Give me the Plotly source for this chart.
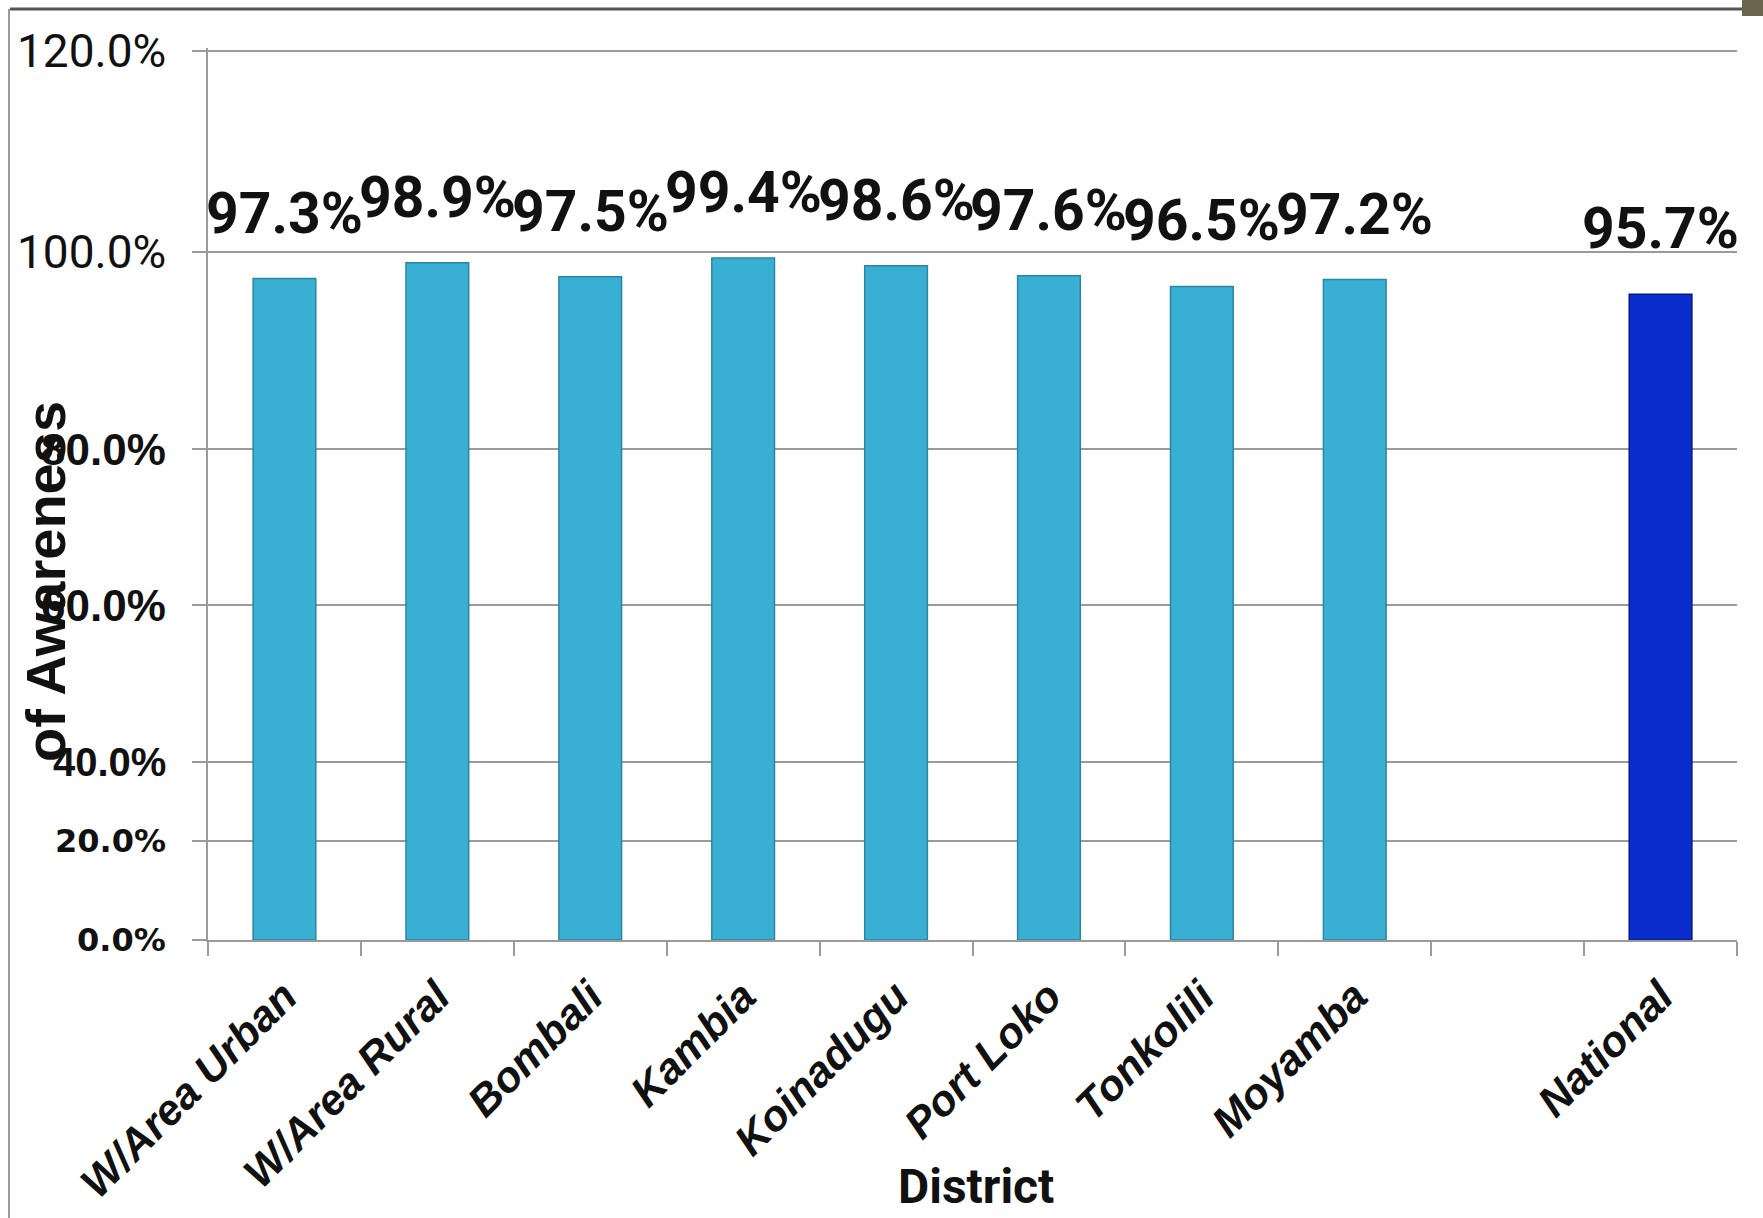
import numpy as np
import plotly.graph_objects as go

# ---- data ----
categories = ["W/Area Urban", "W/Area Rural", "Bombali", "Kambia", "Koinadugu",
              "Port Loko", "Tonkolili", "Moyamba", " ", "National"]
awareness = [97.3, 98.9, 97.5, 99.4, 98.6, 97.6, 96.5, 97.2, None, 95.7]
y_tick_values = [0, 20, 40, 60, 80, 100, 120]
y_tick_labels = ["0.0%", "20.0%", "40.0%", "60.0%", "80.0%", "100.0%", "120.0%"]
x_title = "District"
y_title = "of Awareness"

# ---- layout constants (the source picture has an unevenly spaced value axis) ----
W, H = 1763, 1218
PLOT_L, PLOT_R, PLOT_B = 208, 1737, 940
Y_RANGE_MAX = 892
PLOT_T = PLOT_B - Y_RANGE_MAX
AXIS_PX = [0, 99, 178, 335, 491, 688, 889]   # pixel height of each tick above baseline


def to_axis(v):
    return float(np.interp(v, y_tick_values, AXIS_PX))


def px_x(px):
    return (px - PLOT_L) / (PLOT_R - PLOT_L)


def px_y(py):
    return (PLOT_B - py) / (PLOT_B - PLOT_T)


bar_y = [None if v is None else to_axis(v) for v in awareness]
bar_colors = ["#0a2ccc" if c == "National" else "#38afd3" for c in categories]
line_colors = ["#061a8a" if c == "National" else "#2a86a3" for c in categories]

fig = go.Figure()
fig.add_trace(go.Bar(
    x=categories, y=bar_y,
    customdata=[None if v is None else f"{v:.1f}%" for v in awareness],
    hovertemplate="%{x}: %{customdata}<extra></extra>",
    marker=dict(color=bar_colors, line=dict(color=line_colors, width=1.5)),
))

annotations = []
# value labels above the bars
for c, v in zip(categories, awareness):
    if v is None:
        continue
    annotations.append(dict(
        x=c, y=to_axis(v), xref="x", yref="y", text=f"{v:.1f}%",
        showarrow=False, yanchor="bottom", xanchor="center", yshift=30,
        font=dict(family="Roboto, sans-serif", size=57, color="#111111", weight="bold"),
    ))

# y tick labels (the picture shows them in different sizes)
tick_fonts = {
    "0.0%": ("DejaVu Sans, sans-serif", 32, "bold"),
    "20.0%": ("DejaVu Sans, sans-serif", 32, "bold"),
    "40.0%": ("Liberation Sans, Arial, sans-serif", 40, "bold"),
    "60.0%": ("Liberation Sans, Arial, sans-serif", 44, "bold"),
    "80.0%": ("Liberation Sans, Arial, sans-serif", 44, "bold"),
    "100.0%": ("Roboto, sans-serif", 46, "normal"),
    "120.0%": ("Roboto, sans-serif", 46, "normal"),
}
for tv, tl in zip(y_tick_values, y_tick_labels):
    fam, size, weight = tick_fonts[tl]
    annotations.append(dict(
        x=0, y=to_axis(tv), xref="paper", yref="y", text=tl, showarrow=False,
        xanchor="right", yanchor="middle", xshift=-40,
        font=dict(family=fam, size=size, color="#111111", weight=weight),
    ))

# axis titles
annotations.append(dict(
    x=px_x(45), y=px_y(582), xref="paper", yref="paper", text=y_title,
    textangle=-90, showarrow=False, xanchor="center", yanchor="middle",
    font=dict(family="Liberation Sans, Arial, sans-serif", size=56,
              color="#111111", weight="bold"),
))
annotations.append(dict(
    x=px_x(976), y=px_y(1186), xref="paper", yref="paper", text=x_title,
    showarrow=False, xanchor="center", yanchor="middle",
    font=dict(family="Roboto, sans-serif", size=48, color="#111111", weight="bold"),
))

shapes = [
    # outer frame of the picture
    dict(type="line", xref="paper", yref="paper", x0=px_x(10), x1=px_x(1742),
         y0=px_y(9), y1=px_y(9), line=dict(color="#555555", width=3)),
    dict(type="line", xref="paper", yref="paper", x0=px_x(9), x1=px_x(9),
         y0=px_y(9), y1=px_y(1218), line=dict(color="#9a9a9a", width=2)),
    dict(type="rect", xref="paper", yref="paper", x0=px_x(1742), x1=px_x(1763),
         y0=px_y(0), y1=px_y(16), fillcolor="#6b6550", line=dict(width=0)),
]

fig.update_layout(
    width=W, height=H,
    margin=dict(l=PLOT_L, r=W - PLOT_R, t=PLOT_T, b=H - PLOT_B, autoexpand=False),
    paper_bgcolor="white", plot_bgcolor="white",
    showlegend=False, bargap=0.59,
    annotations=annotations, shapes=shapes,
    xaxis=dict(
        type="category", categoryorder="array", categoryarray=categories,
        range=[-0.5, len(categories) - 0.5], automargin=False,
        tickson="boundaries", ticks="outside", ticklen=14, tickwidth=2,
        tickcolor="#9a9a9a", showline=True, linecolor="#9a9a9a", linewidth=2,
        showgrid=False, tickangle=-45, ticklabelstandoff=12,
        tickfont=dict(family="Liberation Sans, Arial, sans-serif", size=43,
                      color="#111111", weight="bold", style="italic"),
    ),
    yaxis=dict(
        range=[0, Y_RANGE_MAX], tickmode="array", tickvals=[to_axis(v) for v in y_tick_values],
        ticktext=["" for _ in y_tick_values], ticks="outside", ticklen=14, tickwidth=2,
        tickcolor="#9a9a9a", showgrid=True, gridcolor="#9a9a9a", gridwidth=2,
        showline=True, linecolor="#9a9a9a", linewidth=2, zeroline=False,
        automargin=False,
    ),
)

fig.write_html("out.html")
